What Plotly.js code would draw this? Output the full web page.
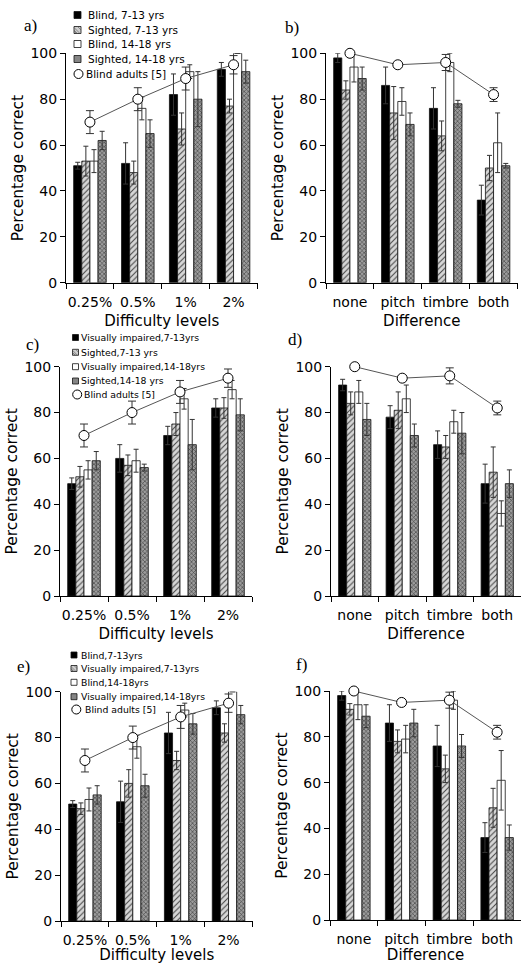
<!DOCTYPE html>
<html><head><meta charset="utf-8">
<script src="https://cdn.plot.ly/plotly-3.0.1.min.js"></script>
<style>html,body{margin:0;padding:0;background:#fff}#chart{width:521px;height:964px}</style>
</head><body><div id="chart"></div>
<script>
// ---------- categories ----------
const difficultyLevels = ['0.25%', '0.5%', '1%', '2%'];
const differenceTypes = ['none', 'pitch', 'timbre', 'both'];

// ---------- series: difficulty levels ----------
const blindYoungLevel = [51, 52, 82, 93];
const blindYoungLevelErr = [1.5, 9, 9, 3];
const sightedYoungLevel = [53, 48, 67, 77];
const sightedYoungLevelErr = [6.5, 5, 7, 3];
const blindOldLevel = [53, 76, 92, 100];
const blindOldLevelErr = [5, 5, 3, 0];
const sightedOldLevel = [62, 65, 80, 92];
const sightedOldLevelErr = [4, 6, 12, 5];
const viYoungLevel = [49, 60, 70, 82];
const viYoungLevelErr = [2.5, 6, 4, 4];
const sightedYoungLevelC = [52, 57, 75, 82];
const sightedYoungLevelCErr = [4.5, 4.5, 5, 4.5];
const viOldLevel = [55, 59, 86, 90];
const viOldLevelErr = [4, 5, 4.5, 4];
const sightedOldLevelC = [59, 56, 66, 79];
const sightedOldLevelCErr = [4, 1.5, 11, 7];
const adultsLevel = [70, 80, 89, 95];
const adultsLevelErr = [5, 5, 5, 4];

// ---------- series: difference type ----------
const blindYoungType = [98, 86, 76, 36];
const blindYoungTypeErr = [2, 8, 9, 6.5];
const sightedYoungType = [84, 74, 64, 50];
const sightedYoungTypeErr = [4, 11.5, 6.5, 5.5];
const blindOldType = [94, 79, 96, 61];
const blindOldTypeErr = [6.5, 6, 4, 13];
const sightedOldType = [89, 69, 78, 51];
const sightedOldTypeErr = [5, 5, 1.5, 1];
const viYoungType = [92, 78, 66, 49];
const viYoungTypeErr = [2.5, 5, 6, 8.5];
const sightedYoungTypeD = [84, 81, 65, 54];
const sightedYoungTypeDErr = [5, 8, 5, 11];
const viOldType = [89, 86, 76, 36];
const viOldTypeErr = [5, 6, 5, 5.5];
const sightedOldTypeD = [77, 70, 71, 49];
const sightedOldTypeDErr = [7, 5, 9, 6];
const adultsType = [100, 95, 96, 82];
const adultsTypeErr = [0.5, 1, 3.5, 3];

// ---------- legend labels ----------
const legendA = ['Blind, 7-13 yrs', 'Sighted, 7-13 yrs', 'Blind, 14-18 yrs', 'Sighted, 14-18 yrs', 'Blind adults [5]'];
const legendC = ['Visually impaired,7-13yrs', 'Sighted,7-13 yrs', 'Visually impaired,14-18yrs', 'Sighted,14-18 yrs', 'Blind adults [5]'];
const legendE = ['Blind,7-13yrs', 'Visually impaired,7-13yrs', 'Blind,14-18yrs', 'Visually impaired,14-18yrs', 'Blind adults [5]'];

// ---------- styles ----------
const W = 521, H = 964;
const FONT = 'DejaVu Sans';
const styles = [
  {color: '#000'},
  {color: '#d6d6d6', pattern: {shape: '/', fgcolor: '#444', bgcolor: '#d6d6d6', size: 4, solidity: 0.25}},
  {color: '#fff'},
  {color: '#909090', pattern: {shape: 'x', fgcolor: '#3a3a3a', bgcolor: '#9c9c9c', size: 3, solidity: 0.35}}
];
const swatchFill = ['#000', '#cfcfcf', '#fff', '#858585'];

function barTrace(cats, vals, errs, k, ax) {
  const m = Object.assign({line: {color: '#111', width: 0.8}}, styles[k]);
  return {
    type: 'bar', x: cats, y: vals, xaxis: 'x' + ax, yaxis: 'y' + ax,
    marker: m, cliponaxis: false, showlegend: false, hoverinfo: 'x+y',
    error_y: {type: 'data', array: errs, visible: true, color: '#333', thickness: 1, width: 2.5}
  };
}
function adultTrace(cats, vals, errs, ax) {
  return {
    type: 'scatter', mode: 'lines+markers', x: cats, y: vals, xaxis: 'x' + ax, yaxis: 'y' + ax,
    line: {color: '#555', width: 1},
    marker: {symbol: 'circle', size: 10, color: '#fff', line: {color: '#000', width: 1}},
    error_y: {type: 'data', array: errs, visible: true, color: '#333', thickness: 1, width: 4},
    cliponaxis: false, showlegend: false
  };
}

const panels = [
  {cats: difficultyLevels, s: [[blindYoungLevel, blindYoungLevelErr], [sightedYoungLevel, sightedYoungLevelErr], [blindOldLevel, blindOldLevelErr], [sightedOldLevel, sightedOldLevelErr]], ad: [adultsLevel, adultsLevelErr], title: 'Difficulty levels', px: [66, 257.5], py: [53.3, 282.7]},
  {cats: differenceTypes, s: [[blindYoungType, blindYoungTypeErr], [sightedYoungType, sightedYoungTypeErr], [blindOldType, blindOldTypeErr], [sightedOldType, sightedOldTypeErr]], ad: [adultsType, adultsTypeErr], title: 'Difference', px: [326, 517.5], py: [53.3, 282.7]},
  {cats: difficultyLevels, s: [[viYoungLevel, viYoungLevelErr], [sightedYoungLevelC, sightedYoungLevelCErr], [viOldLevel, viOldLevelErr], [sightedOldLevelC, sightedOldLevelCErr]], ad: [adultsLevel, adultsLevelErr], title: 'Difficulty levels', px: [60, 252], py: [366.7, 596]},
  {cats: differenceTypes, s: [[viYoungType, viYoungTypeErr], [sightedYoungTypeD, sightedYoungTypeDErr], [viOldType, viOldTypeErr], [sightedOldTypeD, sightedOldTypeDErr]], ad: [adultsType, adultsTypeErr], title: 'Difference', px: [331, 521], py: [366.7, 596]},
  {cats: difficultyLevels, s: [[blindYoungLevel, blindYoungLevelErr], [viYoungLevel, viYoungLevelErr], [blindOldLevel, blindOldLevelErr], [viOldLevel, viOldLevelErr]], ad: [adultsLevel, adultsLevelErr], title: 'Difficulty levels', px: [61, 252.5], py: [691.7, 921]},
  {cats: differenceTypes, s: [[blindYoungType, blindYoungTypeErr], [viYoungType, viYoungTypeErr], [blindOldType, blindOldTypeErr], [viOldType, viOldTypeErr]], ad: [adultsType, adultsTypeErr], title: 'Difference', px: [330, 521], py: [691, 920]}
];
const panelLabels = [['a)', 30, 25], ['b)', 292, 27], ['c)', 32.5, 344], ['d)', 295, 339], ['e)', 23.5, 666], ['f)', 301, 664]];

const X = p => p / W, Y = p => 1 - p / H;
const data = [];
const layout = {
  width: W, height: H, margin: {l: 0, r: 0, t: 0, b: 0},
  paper_bgcolor: '#fff', plot_bgcolor: 'rgba(0,0,0,0)',
  barmode: 'group', bargap: 0.32, bargroupgap: 0,
  font: {family: FONT, color: '#000'},
  showlegend: false, annotations: [], shapes: []
};

panels.forEach((p, i) => {
  const ax = i + 1;
  p.s.forEach((sv, k) => data.push(barTrace(p.cats, sv[0], sv[1], k, ax)));
  data.push(adultTrace(p.cats, p.ad[0], p.ad[1], ax));
  const sfx = ax === 1 ? '' : ax;
  layout['xaxis' + sfx] = {
    domain: [X(p.px[0]), Math.min(1, X(p.px[1]))], anchor: 'y' + ax,
    type: 'category', range: [-0.5, 3.5], tickson: 'boundaries', tickangle: 0,
    ticks: 'outside', ticklen: 5, tickwidth: 1, tickcolor: '#000', ticklabelstandoff: 6,
    showline: true, linecolor: '#000', linewidth: 1, showgrid: false, zeroline: false,
    tickfont: {family: FONT, size: 14, color: '#000'},
    title: {text: p.title, font: {family: FONT, size: 15, color: '#000'}, standoff: 6},
    automargin: false, fixedrange: true
  };
  layout['yaxis' + sfx] = {
    domain: [Y(p.py[1]), Y(p.py[0])], anchor: 'x' + ax,
    range: [0, 100], tickvals: [0, 20, 40, 60, 80, 100],
    ticks: 'outside', ticklen: 5, tickwidth: 1, tickcolor: '#000',
    showline: true, linecolor: '#000', linewidth: 1, showgrid: false, zeroline: false,
    tickfont: {family: FONT, size: 14, color: '#000'},
    title: {text: 'Percentage correct', font: {family: FONT, size: 15.5, color: '#000'}, standoff: 3},
    automargin: false, fixedrange: true
  };
});

panelLabels.forEach(l => layout.annotations.push({
  text: l[0], xref: 'paper', yref: 'paper', x: X(l[1]), y: Y(l[2]),
  xanchor: 'center', yanchor: 'middle', showarrow: false,
  font: {family: 'Liberation Serif', size: 17, color: '#000'}
}));

function addLegend(labels, sx, size, tx, rows, cx, cd, ctx, fs) {
  for (let k = 0; k < 4; k++) {
    const yc = rows[k];
    layout.shapes.push({type: 'rect', xref: 'paper', yref: 'paper',
      x0: X(sx), x1: X(sx + size), y0: Y(yc + size / 2), y1: Y(yc - size / 2),
      fillcolor: swatchFill[k], line: {color: '#111', width: 0.8}});
    if (k === 1) {
      layout.shapes.push({type: 'path', xref: 'paper', yref: 'paper',
        path: `M${X(sx)},${Y(yc + size / 2 - 2.5)} L${X(sx + 2.5)},${Y(yc + size / 2)} M${X(sx)},${Y(yc)} L${X(sx + size / 2)},${Y(yc + size / 2)} M${X(sx)},${Y(yc - size / 2 + 1)} L${X(sx + size - 1)},${Y(yc + size / 2)} M${X(sx + size / 2)},${Y(yc - size / 2)} L${X(sx + size)},${Y(yc)}`,
        line: {color: '#555', width: 0.6}});
    }
    layout.annotations.push({text: labels[k], xref: 'paper', yref: 'paper', x: X(tx), y: Y(yc),
      xanchor: 'left', yanchor: 'middle', showarrow: false, font: {family: FONT, size: fs, color: '#000'}});
  }
  const yc = rows[4];
  layout.shapes.push({type: 'circle', xref: 'paper', yref: 'paper',
    x0: X(cx - cd / 2), x1: X(cx + cd / 2), y0: Y(yc + cd / 2), y1: Y(yc - cd / 2),
    fillcolor: '#fff', line: {color: '#000', width: 1}});
  layout.annotations.push({text: labels[4], xref: 'paper', yref: 'paper', x: X(ctx), y: Y(yc),
    xanchor: 'left', yanchor: 'middle', showarrow: false, font: {family: FONT, size: fs, color: '#000'}});
}
addLegend(legendA, 74, 7, 86, [15, 30, 44, 59, 74], 78.5, 9, 83.5, 10.5);
addLegend(legendC, 72.5, 6, 79, [337.5, 352.3, 366.7, 381, 394.5], 77.2, 9, 81.5, 9.3);
addLegend(legendE, 71, 6, 79, [655, 668.5, 682.3, 696.7, 709.5], 76.3, 9, 82.5, 9.3);

Plotly.newPlot('chart', data, layout, {staticPlot: true, displayModeBar: false});
</script></body></html>
